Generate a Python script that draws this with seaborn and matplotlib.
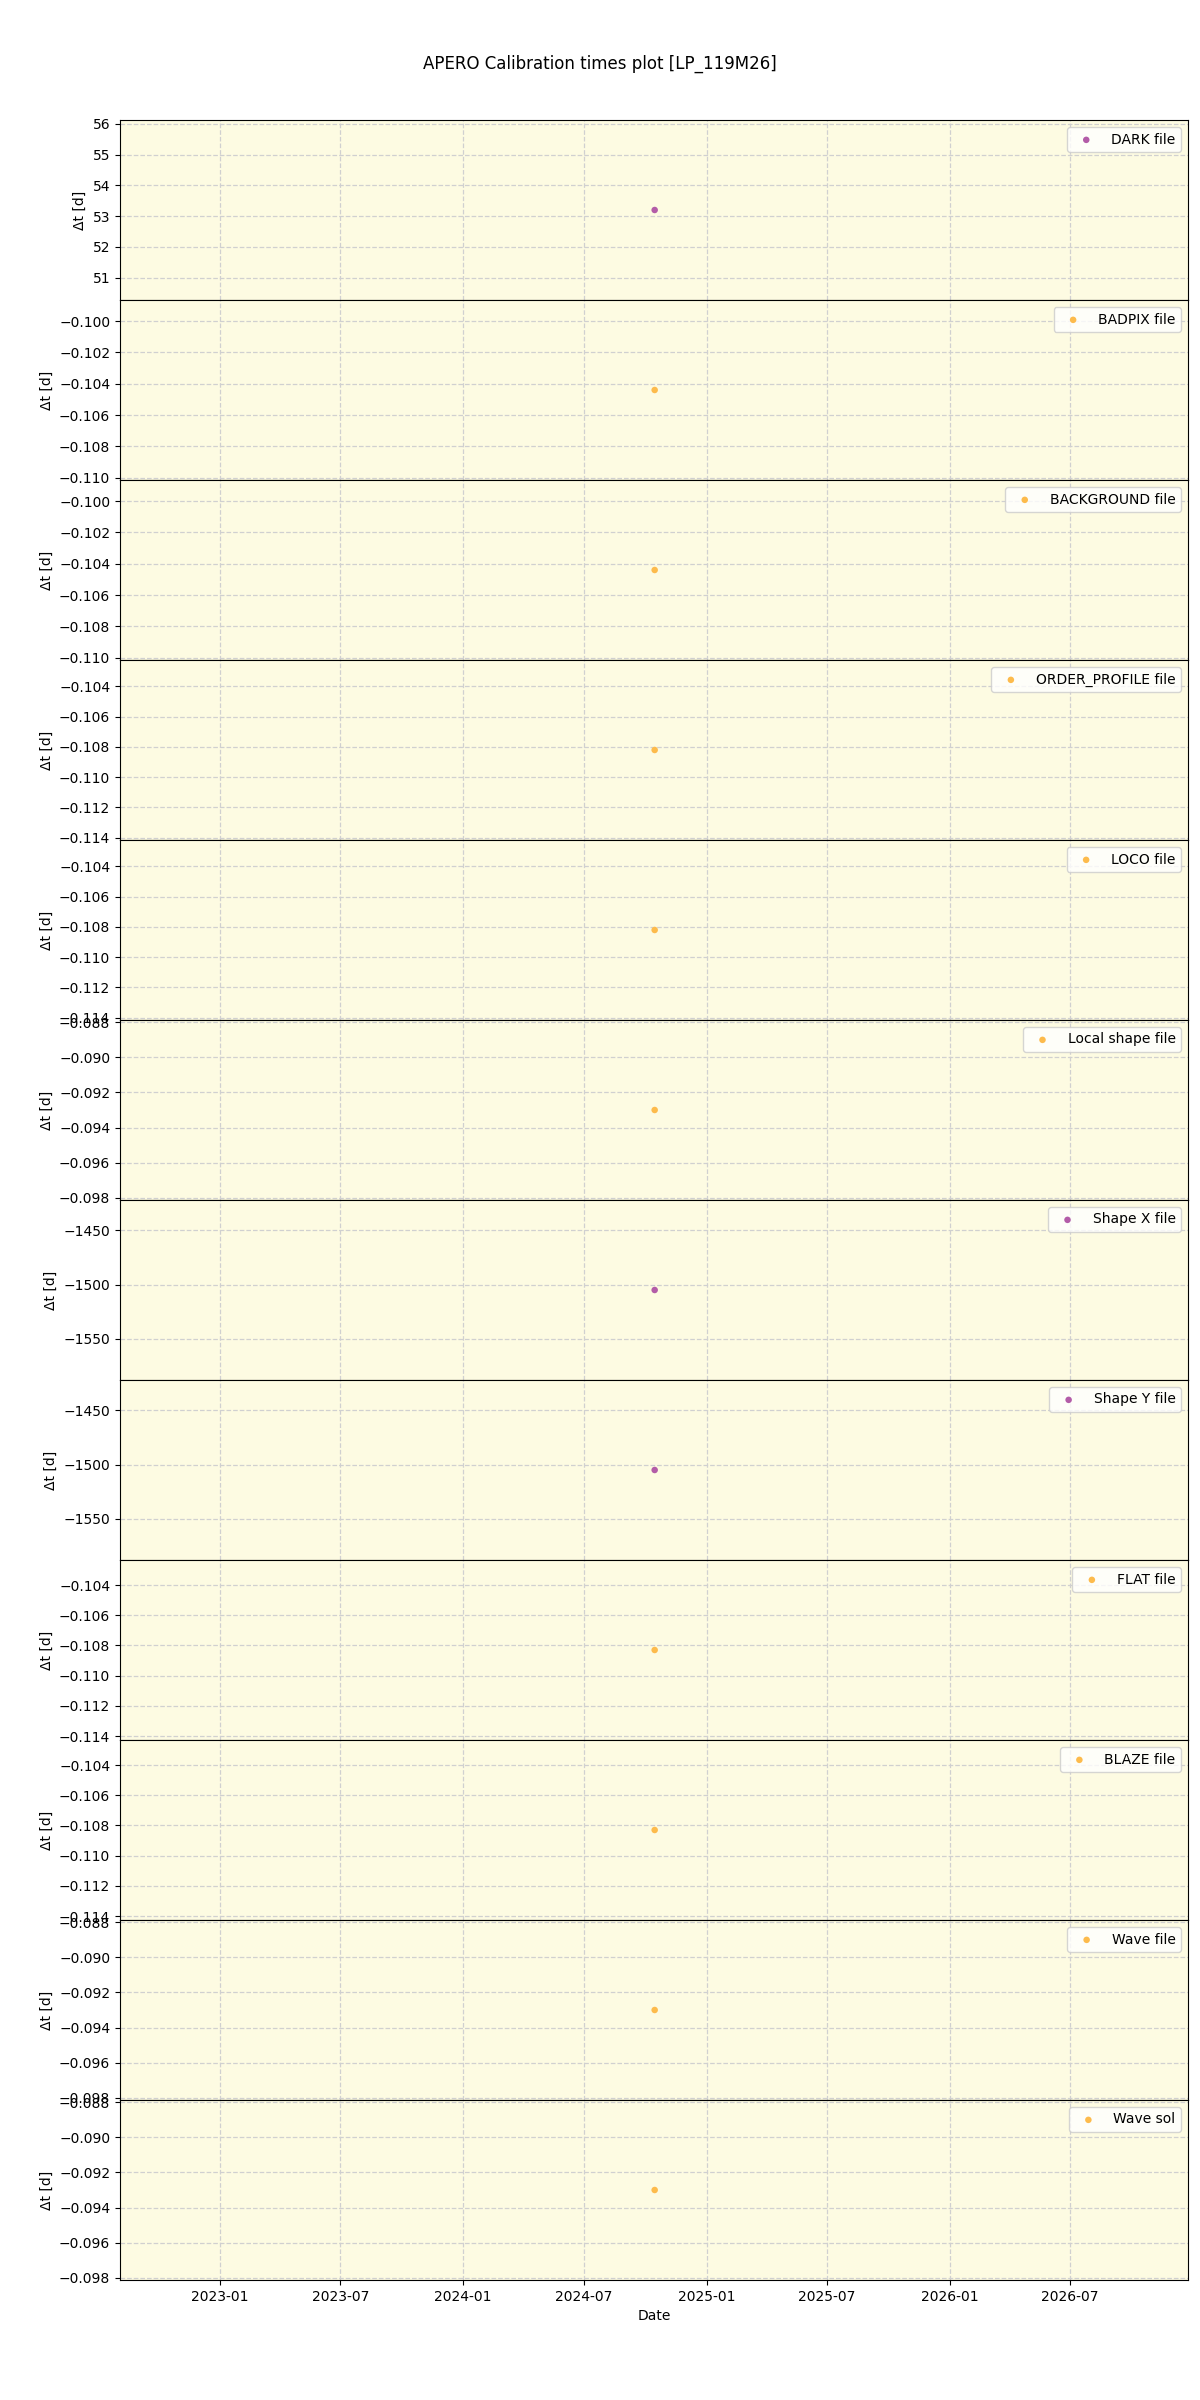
import matplotlib
matplotlib.use("Agg")
import matplotlib.pyplot as plt
import matplotlib.dates as mdates
import seaborn as sns
import pandas as pd
import numpy as np

labels = ["DARK file", "BADPIX file", "BACKGROUND file", "ORDER_PROFILE file",
          "LOCO file", "Local shape file", "Shape X file", "Shape Y file",
          "FLAT file", "BLAZE file", "Wave file", "Wave sol"]
values = [53.2, -0.1044, -0.1044, -0.1082, -0.1082, -0.0930,
          -1505.0, -1505.0, -0.1083, -0.1083, -0.0930, -0.0930]
kinds = ["purple", "orange", "orange", "orange", "orange", "orange",
         "purple", "purple", "orange", "orange", "orange", "orange"]
obs_date = "2024-10-15"
x_range = ["2022-08-04", "2026-12-25"]

colour_map = {"purple": "#b35ca8", "orange": "#fdbb4c"}

fig, axes = plt.subplots(len(labels), 1, figsize=(12, 24), dpi=100, sharex=True)
fig.subplots_adjust(left=0.1, right=0.99, top=0.95, bottom=0.05, hspace=0)

for ax, lab, val, kind in zip(axes, labels, values, kinds):
    df = pd.DataFrame({"date": pd.to_datetime([obs_date]), "dt": [val]})
    ax.set_facecolor("#fdfbe2")
    sns.scatterplot(data=df, x="date", y="dt", ax=ax, color=colour_map[kind],
                    s=22, edgecolor="none", label=lab, zorder=3)
    ax.set_ylim(val - 0.055 * abs(val), val + 0.055 * abs(val))
    ax.grid(True, linestyle="--", color="#d0d0d0", linewidth=0.9)
    ax.set_axisbelow(True)
    ax.set_ylabel("Δt [d]")
    ax.set_xlabel("")
    ax.legend(loc="upper right")

axes[-1].set_xlim(pd.to_datetime(x_range[0]), pd.to_datetime(x_range[1]))
axes[-1].xaxis.set_major_locator(mdates.MonthLocator(bymonth=[1, 7]))
axes[-1].xaxis.set_major_formatter(mdates.DateFormatter("%Y-%m"))
axes[-1].set_xlabel("Date")

fig.suptitle("APERO Calibration times plot [LP_119M26]", y=0.977)
fig.savefig("out.png")
